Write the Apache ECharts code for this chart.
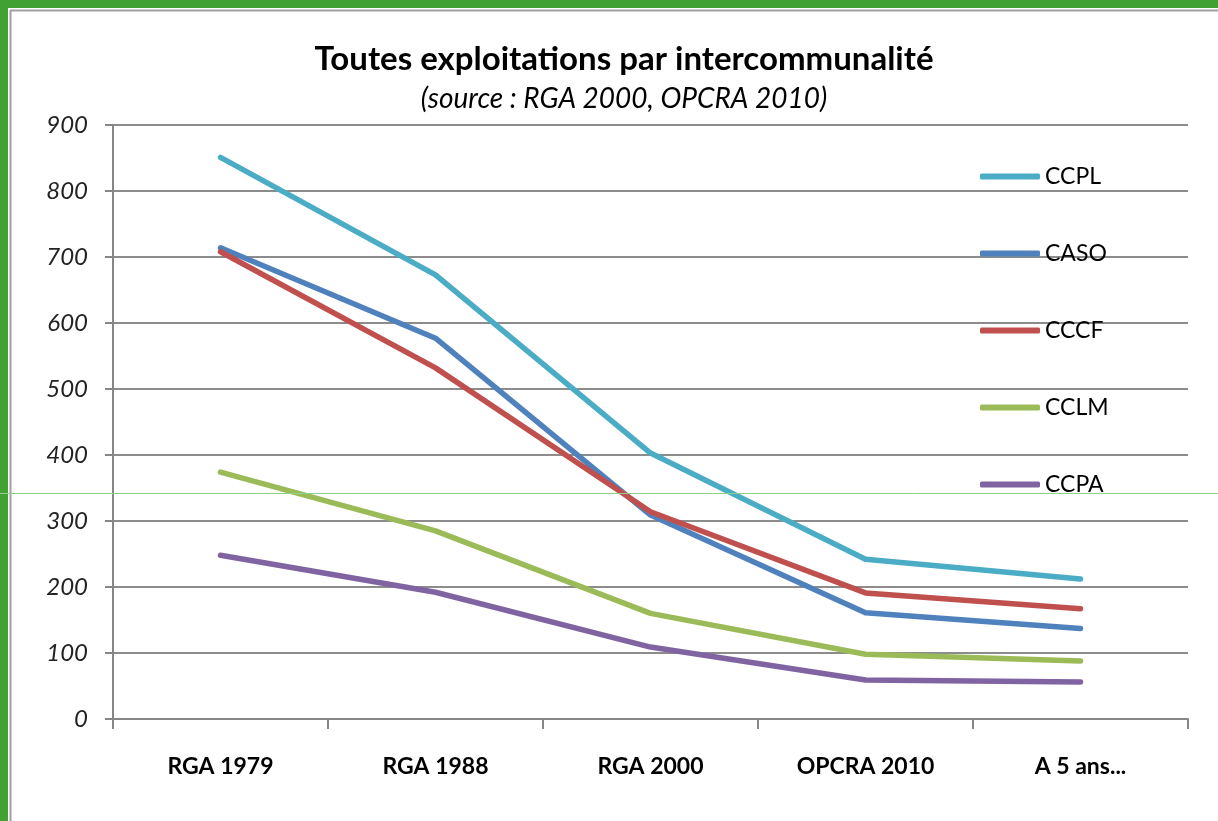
<!DOCTYPE html>
<html>
<head>
<meta charset="utf-8">
<script src="https://cdn.jsdelivr.net/npm/echarts@6/dist/echarts.min.js"></script>
<style>
  html, body { margin: 0; padding: 0; background: #fff; }
  #main { width: 1218px; height: 821px; }
</style>
</head>
<body>
<div id="main"></div>
<script>
var chart = echarts.init(document.getElementById('main'));

// categories & values
var categories = ['RGA 1979', 'RGA 1988', 'RGA 2000', 'OPCRA 2010', 'A 5 ans...'];
var ccpl = [851, 673, 403, 242, 212];
var caso = [714, 577, 309, 161, 137];
var cccf = [708, 532, 314, 191, 167];
var cclm = [374, 285, 160, 98, 88];
var ccpa = [248, 192, 109, 59, 56];

var seriesNames = ['CCPL', 'CASO', 'CCCF', 'CCLM', 'CCPA'];
var seriesData = [ccpl, caso, cccf, cclm, ccpa];
var colors = ['#4bacc6', '#4f81bd', '#c0504d', '#9bbb59', '#8064a2'];

var font = 'Lato, "Open Sans", sans-serif';

var series = [];
for (var i = 0; i < seriesNames.length; i++) {
    series.push({
        type: 'line',
        name: seriesNames[i],
        data: seriesData[i],
        showSymbol: false,
        symbol: 'none',
        lineStyle: { width: 5.5, color: colors[i], cap: 'round', join: 'round' },
        itemStyle: { color: colors[i] },
        animation: false
    });
}

chart.setOption({
    animation: false,
    backgroundColor: '#ffffff',
    color: colors,
    title: [{
        text: 'Toutes exploitations par intercommunalité',
        left: 619, top: 38, textAlign: 'center',
        textStyle: { fontFamily: font, fontSize: 33, fontWeight: 'bold', color: '#000' }
    }, {
        text: '(source : RGA 2000, OPCRA 2010)',
        left: 619, top: 80, textAlign: 'center',
        textStyle: { fontFamily: font, fontSize: 28, fontStyle: 'italic', fontWeight: 'normal', color: '#000' }
    }],
    legend: {
        orient: 'vertical',
        left: 980, top: 165,
        padding: 0,
        itemWidth: 60, itemHeight: 6,
        itemGap: 54,
        icon: 'roundRect',
        data: seriesNames,
        textStyle: { fontFamily: font, fontSize: 23, color: '#000', lineHeight: 22 }
    },
    grid: { left: 113, right: 30, top: 125, bottom: 102, containLabel: false },
    xAxis: {
        type: 'category',
        data: categories,
        boundaryGap: true,
        axisLine: { lineStyle: { color: '#868686', width: 2 } },
        axisTick: { show: true, length: 10, lineStyle: { color: '#868686', width: 2 } },
        axisLabel: { margin: 36, fontFamily: font, fontSize: 23, fontWeight: 'bold', color: '#000' }
    },
    yAxis: {
        type: 'value',
        min: 0, max: 900, interval: 100,
        axisLine: { show: true, lineStyle: { color: '#868686', width: 2 } },
        axisTick: { show: true, length: 8, lineStyle: { color: '#868686', width: 2 } },
        splitLine: { lineStyle: { color: '#8c8c8c', width: 2 } },
        axisLabel: { margin: 25, fontFamily: font, fontSize: 24, fontStyle: 'italic', color: '#222' }
    },
    graphic: [
        { type: 'rect', shape: { x: 0, y: 0, width: 1218, height: 8 }, style: { fill: '#42a133' }, z: 100 },
        { type: 'rect', shape: { x: 0, y: 0, width: 8, height: 821 }, style: { fill: '#42a133' }, z: 100 },
        { type: 'line', shape: { x1: 10, y1: 10.5, x2: 1218, y2: 10.5 }, style: { stroke: '#a0a0a0', lineWidth: 2 }, z: 100 },
        { type: 'line', shape: { x1: 10.5, y1: 10, x2: 10.5, y2: 821 }, style: { stroke: '#a0a0a0', lineWidth: 2 }, z: 100 },
        { type: 'line', shape: { x1: 0, y1: 493.5, x2: 1218, y2: 493.5 }, style: { stroke: '#8fd08a', lineWidth: 1 }, z: 100 }
    ],
    series: series
});
</script>
</body>
</html>
